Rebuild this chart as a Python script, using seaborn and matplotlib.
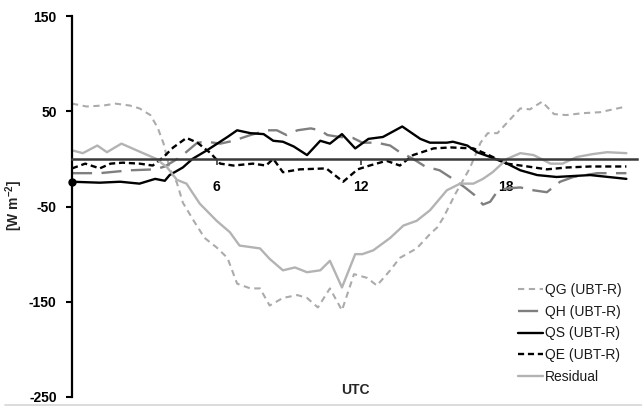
import matplotlib
matplotlib.use("Agg")
import matplotlib.pyplot as plt
from matplotlib.lines import Line2D
import seaborn as sns

# Hour of day (UTC) and flux values in W m-2 for each energy-balance term
qg_hours = [0, 0.6, 1.3, 1.8, 2.4, 2.8, 3.25, 3.55, 3.8, 4.05,
            4.35, 4.6, 5.05, 5.5, 6.0, 6.45, 6.85, 7.4, 7.8, 8.2,
            8.75, 9.35, 9.75, 10.2, 10.7, 11.2, 11.7, 12.25, 12.65, 13.2,
            13.6, 14.3, 14.85, 15.15, 15.4, 15.9, 16.1, 16.5, 16.95, 17.25,
            17.65, 18.05, 18.6, 19.0, 19.5, 20.0, 20.5, 21.2, 21.9, 23.0]
qg_vals = [58, 55, 56, 58, 56, 53, 46, 33, 16, -10,
           -25, -46, -65, -83, -93, -104, -131, -136, -136, -154,
           -146, -143, -146, -156, -136, -159, -121, -125, -133, -117,
           -104, -94, -79, -72, -62, -37, -28, -10, 17, 27,
           27, 38, 53, 52, 60, 47, 46, 48, 49, 55]

qh_hours = [0, 1.15, 2.4, 3.45, 3.85, 4.5, 5.2, 5.6, 6.15, 6.7,
            7.4, 8.1, 8.5, 8.9, 9.35, 9.9, 10.3, 10.6, 11.1, 11.65,
            12.05, 12.65, 13.2, 13.6, 13.85, 14.15, 14.65, 15.25, 15.8, 16.3,
            16.7, 17.05, 17.35, 17.65, 18.05, 18.6, 19.15, 19.7, 20.25, 20.8,
            21.8, 23.0]
qh_vals = [-15, -15, -12, -11, -8, 2, 17, 18, 16, 19,
           25, 30, 30, 25, 30, 32, 30, 25, 23, 22,
           17, 17, 14, 7, 4, 0, -8, -12, -21, -30,
           -38, -48, -45, -34, -31, -30, -33, -35, -24, -19,
           -15, -15]

qs_hours = [0, 1.15, 2.0, 2.8, 3.45, 3.85, 4.05, 4.6, 5.0, 5.6,
            6.45, 6.85, 7.4, 7.95, 8.35, 8.75, 9.2, 9.75, 10.3, 10.7,
            11.2, 11.75, 12.3, 12.9, 13.7, 14.45, 14.85, 15.55, 15.8, 16.4,
            16.8, 17.35, 18.05, 18.6, 19.3, 20.1, 21.5, 23.0]
qs_vals = [-24, -25, -24, -26, -21, -23, -17, -9, 0, 9,
           23, 30, 27, 26, 19, 18, 13, 4, 19, 16,
           26, 11, 21, 23, 34, 21, 17, 17, 18, 14,
           7, 2, -5, -12, -17, -19, -17, -21]

qe_hours = [0, 0.55, 1.15, 1.6, 2.1, 2.8, 3.35, 3.8, 4.2, 4.75,
            5.2, 5.75, 6.15, 6.7, 7.5, 8.05, 8.35, 8.75, 9.45, 10.55,
            11.25, 11.85, 12.35, 13.05, 13.6, 14.15, 15.0, 15.7, 16.65, 17.2,
            18.05, 18.9, 19.7, 20.55, 21.5, 23.0]
qe_vals = [-10, -5, -10, -5, -4, -5, -7, 2, 12, 22,
           17, 6, -5, -7, -5, -7, 0, -14, -11, -10,
           -24, -11, -7, -2, -7, 4, 11, 12, 11, 5,
           -5, -8, -11, -9, -8, -8]

res_hours = [0, 0.45, 1.05, 1.45, 2.05, 2.95, 3.5, 3.95, 4.35, 4.75,
             5.3, 6.0, 6.55, 6.95, 7.8, 8.2, 8.75, 9.25, 9.75, 10.3,
             10.7, 11.2, 11.75, 12.05, 12.5, 13.2, 13.75, 14.3, 14.85, 15.55,
             16.1, 16.65, 17.05, 17.45, 18.05, 18.6, 19.15, 19.85, 20.35, 20.95,
             21.6, 22.2, 23.0]
res_vals = [9, 6, 14, 7, 16, 6, 0, -9, -22, -26,
            -47, -65, -77, -91, -94, -105, -117, -114, -119, -117,
            -107, -135, -100, -100, -96, -83, -70, -65, -54, -33,
            -26, -26, -21, -14, 0, 6, 4, -5, -5, 2,
            5, 7, 6]

series_labels = ["QG (UBT-R)", "QH (UBT-R)", "QS (UBT-R)", "QE (UBT-R)", "Residual"]
y_ticks = [150, 50, -50, -150, -250]
x_ticks = [6, 12, 18]

sns.set_style("white")
plt.rcParams["font.family"] = ["Liberation Sans", "DejaVu Sans"]
plt.rcParams["axes.unicode_minus"] = False
plt.rcParams["mathtext.fontset"] = "custom"
plt.rcParams["mathtext.rm"] = "Liberation Sans"
plt.rcParams["mathtext.bf"] = "Liberation Sans:bold"

fig = plt.figure(figsize=(6.42, 4.07), dpi=100)
ax = fig.add_axes([72 / 642, 1 - 397 / 407, (637 - 72) / 642, (397 - 16) / 407])

styles = [
    dict(color="#ababab", linewidth=1.5, linestyle=(0, (3.0, 2.2))),
    dict(color="#7f7f7f", linewidth=1.7, linestyle=(0, (8.5, 4.0))),
    dict(color="#000000", linewidth=1.7, linestyle="-"),
    dict(color="#000000", linewidth=1.7, linestyle=(0, (2.6, 1.6))),
    dict(color="#b3b3b3", linewidth=1.7, linestyle="-"),
]
data = [(qg_hours, qg_vals), (qh_hours, qh_vals), (qs_hours, qs_vals),
        (qe_hours, qe_vals), (res_hours, res_vals)]

for label, (hrs, vals), st in zip(series_labels, data, styles):
    sns.lineplot(x=hrs, y=vals, ax=ax, estimator=None, sort=False,
                 label=label, solid_joinstyle="round", dash_joinstyle="round",
                 solid_capstyle="round", **st)

# marker on the first QS sample
ax.plot(qs_hours[0], qs_vals[0], "o", color="black", ms=5, clip_on=False, zorder=5)

ax.set_xlim(0, 23.44)
ax.set_ylim(-250, 150)

for side in ("top", "right"):
    ax.spines[side].set_visible(False)
ax.spines["left"].set_color("black")
ax.spines["left"].set_linewidth(1.6)
ax.spines["bottom"].set_position(("data", 0))
ax.spines["bottom"].set_color("#3a3a3a")
ax.spines["bottom"].set_linewidth(1.8)
ax.spines["bottom"].set_zorder(4)

ax.set_yticks(y_ticks, labels=[str(t) for t in y_ticks], fontweight="bold", fontsize=10)
ax.set_xticks(x_ticks, labels=[str(t) for t in x_ticks], fontweight="bold", fontsize=10)
ax.tick_params(axis="y", left=True, direction="out", length=4, width=1.5, pad=7, colors="black")
ax.tick_params(axis="x", bottom=True, direction="out", length=4, width=1.2, pad=11,
               color="#3a3a3a", labelcolor="black")

ax.set_ylabel(r"[W m$^{\mathbf{-2}}$]", fontweight="bold", fontsize=10)
ax.yaxis.set_label_coords(-0.083, 0.504)
ax.set_xlabel("UTC", fontweight="bold", fontsize=10)
ax.xaxis.set_label_coords(0.501, 0.037)

leg = ax.legend(loc="lower left", bbox_to_anchor=(518 / 642, 1 - 384 / 407),
                bbox_transform=fig.transFigure, frameon=False, fontsize=10,
                handlelength=1.8, handletextpad=0.15, labelspacing=0.56,
                borderpad=0, borderaxespad=0)
for t in leg.get_texts():
    t.set_color("#1a1a1a")

# thin light border along the bottom of the figure
fig.add_artist(Line2D([5 / 642, 1], [1 - 404.5 / 407] * 2, color="#d6d6d6",
                      linewidth=1.2, transform=fig.transFigure))

fig.savefig("out.png", dpi=100)
